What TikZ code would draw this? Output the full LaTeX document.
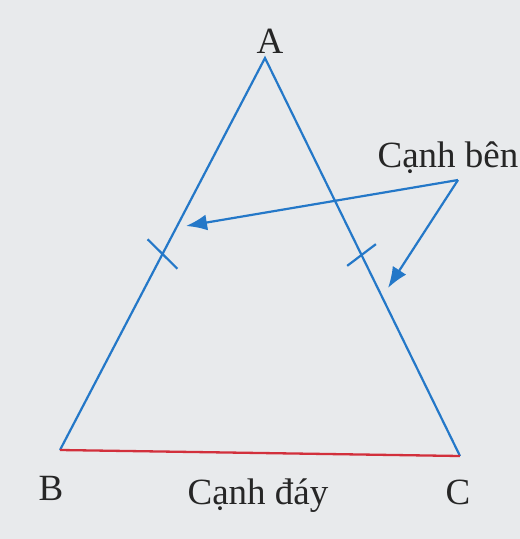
\documentclass[tikz,border=0pt]{standalone}
\usepackage{fontspec}
\setmainfont{Liberation Serif}
\usepackage{tikz}
\usetikzlibrary{positioning,arrows.meta,calc}
\definecolor{paper}{HTML}{E8EAEC}
\definecolor{sideblue}{HTML}{2478C8}
\definecolor{basered}{HTML}{D2303C}
\begin{document}
\begin{tikzpicture}[
    x=1pt, y=-1pt,
    lbl/.style={font=\fontsize{37}{42}\selectfont, text=black!85, inner sep=0pt, anchor=base},
    side/.style={draw=sideblue, line width=2.2pt},
    base/.style={draw=basered, line width=2.3pt},
    arr/.style={sideblue, line width=2.2pt, -{Latex[length=21pt,width=16pt]}}
]
\fill[paper] (0,0) rectangle (520,539);
\useasboundingbox (0,0) rectangle (520,539);
\coordinate (A) at (265,58);
\coordinate (B) at (60,450);
\coordinate (C) at (460,456);
\node[lbl] (labA) at (270,53) {A};
\node[lbl] (labB) at (51,500) {B};
\node[lbl] (labC) at (458,504) {C};
\node[lbl] (side) at (448,167) {Cạnh bên};
\node[lbl] (bottom) at (258,504) {Cạnh đáy};
\draw[side] (B) -- (A) -- (C);
\draw[base] (B) -- (C);
% equal sides
\coordinate (mAB) at ($(B)!0.5!(A)$);
\coordinate (mAC) at ($(A)!0.495!(C)$);
\draw[side] ($(mAB)!21pt!73:(A)$) -- ($(mAB)!21pt!-107:(A)$);
\draw[side] ($(mAC)!18pt!101:(A)$) -- ($(mAC)!18pt!-79:(A)$);
% pointers
\coordinate (J) at (458,180);
\coordinate (tipAB) at (186,226);
\coordinate (tipAC) at (388,288);
\draw[arr] (J) -- (tipAB);
\draw[arr] (J) -- (tipAC);
\end{tikzpicture}
\end{document}
